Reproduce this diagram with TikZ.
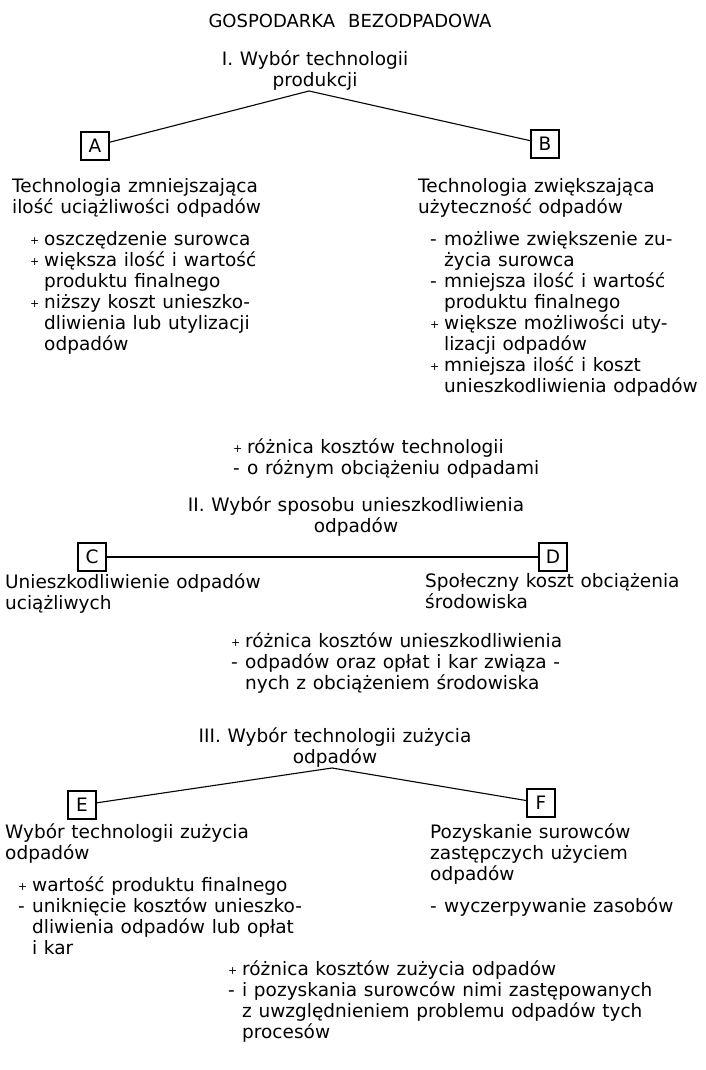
\documentclass[tikz,border=0pt]{standalone}
\usepackage{fontspec}
\setmainfont{DejaVu Sans}
\newcommand\psign{\makebox[14pt][l]{\raisebox{1pt}{\fontsize{11}{11}\selectfont+}}}
\newcommand\msign{\makebox[14pt][l]{-}}
\newcommand\ind{\hspace*{14pt}}
\begin{document}
\begin{tikzpicture}[x=1pt, y=-1pt,
    font=\fontsize{18.5}{21}\selectfont,
    txt/.style={anchor=north west, align=left, inner sep=0pt, yshift=14.7pt,
      execute at begin node={\spaceskip=0.36em\relax\strut}},
    head/.style={anchor=north, align=center, inner sep=0pt, yshift=14.7pt,
      execute at begin node={\spaceskip=0.36em\relax\strut}},
    letterbox/.style={draw, line width=1.3pt, minimum size=28pt, inner sep=0pt},
    link/.style={line width=1.1pt}]
  \useasboundingbox (0,0) rectangle (705,1070);
  \node[head, font=\fontsize{18}{21}\selectfont] (title) at (350,27) {GOSPODARKA\ \ BEZODPADOWA};
  \node[head] (choiceI) at (315,65) {I. Wybór technologii\\produkcji};
  \coordinate (topI) at (309,91);
  \node[letterbox] (A) at (95,146) {A};
  \node[letterbox] (B) at (545,144) {B};
  \draw[link] (A) -- (topI) -- (B);
  \node[txt] (techA) at (12,193) {Technologia zmniejszająca\\ilość uciążliwości odpadów};
  \node[txt] (listA) at (30,246) {\psign oszczędzenie surowca\\
    \psign większa ilość i wartość\\
    \ind produktu finalnego\\
    \psign niższy koszt unieszko-\\
    \ind dliwienia lub utylizacji\\
    \ind odpadów};
  \node[txt] (techB) at (418,193) {Technologia zwiększająca\\użyteczność odpadów};
  \node[txt] (listB) at (430,246) {\msign możliwe zwiększenie zu-\\
    \ind życia surowca\\
    \msign mniejsza ilość i wartość\\
    \ind produktu finalnego\\
    \psign większe możliwości uty-\\
    \ind lizacji odpadów\\
    \psign mniejsza ilość i koszt\\
    \ind unieszkodliwienia odpadów};
  \node[txt] (diffI) at (233,453) {\psign różnica kosztów technologii\\
    \msign o różnym obciążeniu odpadami};
  \node[head] (choiceII) at (356,511) {II. Wybór sposobu unieszkodliwienia\\odpadów};
  \node[letterbox] (C) at (92,557) {C};
  \node[letterbox] (D) at (553,557) {D};
  \draw[link] (C) -- (D);
  \node[txt] (utilC) at (5,588) {Unieszkodliwienie odpadów\\uciążliwych};
  \node[txt] (costD) at (425,588) {Społeczny koszt obciążenia\\środowiska};
  \node[txt] (diffII) at (231,647) {\psign różnica kosztów unieszkodliwienia\\
    \msign odpadów oraz opłat i kar związa -\\
    \ind nych z obciążeniem środowiska};
  \node[head] (choiceIII) at (335,742) {III. Wybór technologii zużycia\\odpadów};
  \coordinate (topIII) at (332,768);
  \node[letterbox] (E) at (82,805) {E};
  \node[letterbox] (F) at (541,803) {F};
  \draw[link] (E) -- (topIII) -- (F);
  \node[txt] (techE) at (5,838) {Wybór technologii zużycia\\odpadów};
  \node[txt] (listE) at (18,891) {\psign wartość produktu finalnego\\
    \msign uniknięcie kosztów unieszko-\\
    \ind dliwienia odpadów lub opłat\\
    \ind i kar};
  \node[txt] (gainF) at (430,838) {Pozyskanie surowców\\zastępczych użyciem\\odpadów};
  \node[txt] (listF) at (430,912) {\msign wyczerpywanie zasobów};
  \node[txt] (diffIII) at (228,975) {\psign różnica kosztów zużycia odpadów\\
    \msign i pozyskania surowców nimi zastępowanych\\
    \ind z uwzględnieniem problemu odpadów tych\\
    \ind procesów};
\end{tikzpicture}
\end{document}
